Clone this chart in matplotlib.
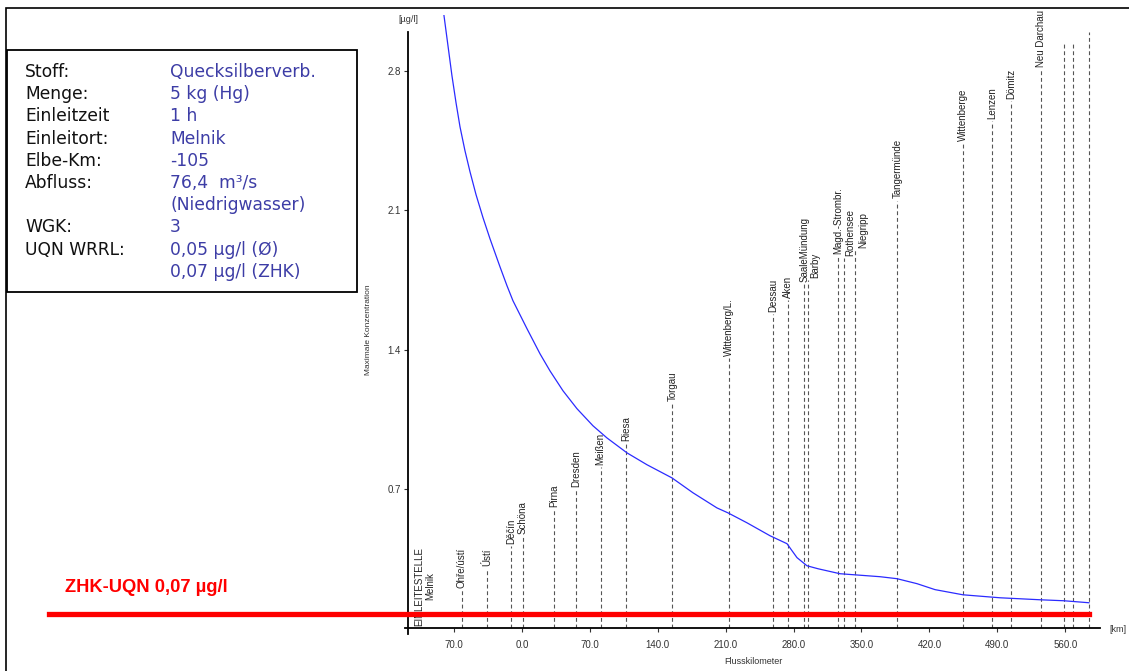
import matplotlib.pyplot as plt
from matplotlib.patches import Rectangle


# Maximalkonzentration entlang der Elbe (Flusskilometer, µg/l)
curve_km = [-80.4, -76.3, -72.2, -68.0, -63.9, -58.8, -53.6, -47.4, -40.2, -33.0,
            -22.7, -15.5, -9.3, 5.2, 18.6, 28.9, 42.3, 56.7, 73.2, 87.6,
            108.2, 128.9, 154.6, 176.3, 201.0, 212.4, 232.0, 255.7, 273.2, 283.5,
            293.8, 305.2, 327.8, 369.1, 386.6, 407.2, 425.8, 454.6, 492.8, 534.0,
            558.8, 584.5]
curve_conc = [3.08, 2.929, 2.778, 2.642, 2.521, 2.401, 2.295, 2.180, 2.064, 1.958,
              1.817, 1.722, 1.646, 1.505, 1.379, 1.293, 1.193, 1.103, 1.017, 0.956,
              0.881, 0.821, 0.755, 0.680, 0.604, 0.579, 0.529, 0.464, 0.424, 0.354,
              0.313, 0.298, 0.273, 0.258, 0.248, 0.223, 0.193, 0.167, 0.152, 0.142,
              0.137, 0.127]

# Pegel / Orte
station_names = ['Ohře/ústí', 'Ústí', 'Děčín', 'Schöna', 'Pirna', 'Dresden', 'Meißen',
                 'Riesa', 'Torgau', 'Wittenberg/L.', 'Dessau', 'Aken', 'SaaleMündung',
                 'Barby', 'Magd.-Strombr.', 'Rothensee', 'Niegripp', 'Tangermünde',
                 'Wittenberge', 'Lenzen', 'Dömitz', 'Neu Darchau', '', '', '']
station_km = [-62, -36, -11, 1, 33, 56, 81, 107, 155, 213, 259, 274, 291, 295,
              326, 332, 343, 387, 455, 485, 504, 535, 559, 568, 585]

source_km = -105
zhk_uqn = 0.07

x_ticks = [-70, 0, 70, 140, 210, 280, 350, 420, 490, 560]
y_ticks = [0.7, 1.4, 2.1, 2.8]

info_keys = ['Stoff:', 'Menge:', 'Einleitzeit', 'Einleitort:', 'Elbe-Km:', 'Abfluss:',
             '', 'WGK:', 'UQN WRRL:', '']
info_values = ['Quecksilberverb.', '5 kg (Hg)', '1 h', 'Melnik', '-105', '76,4  m³/s',
               '(Niedrigwasser)', '3', '0,05 µg/l (Ø)', '0,07 µg/l (ZHK)']

# Höhe der Ortslinien (in µg/l) und seitlicher Versatz der Beschriftung (pt)
line_top = [0.19, 0.30, 0.41, 0.46, 0.60, 0.70, 0.81, 0.93, 1.13, 1.36, 1.58, 1.65, 1.73,
            1.75, 1.87, 1.86, 1.90, 2.15, 2.44, 2.55, 2.65, 2.81, 2.94, 2.94, 3.00]
label_dx = [0, 0, 0, 0, 0, 0, 0, 0, 0, 0, 0, 0, 0, 5, 0, 4.5, 6, 0, 0, 0, 0, 0, 0, 0, 0]


W, H = 1129, 671


def fx(x):
    return x / W


def fy(y):
    return 1 - y / H


plt.rcParams['font.family'] = ['Liberation Sans', 'DejaVu Sans']

fig = plt.figure(figsize=(W / 100, H / 100), dpi=100)
ax = fig.add_axes([fx(408), fy(628), fx(1100) - fx(408), fy(15) - fy(628)])

ax.set_xlim(-117.5, 595.9)
ax.set_ylim(0, 3.083)

# gestrichelte Ortslinien mit Beschriftung
for name, km, top, dx in zip(station_names, station_km, line_top, label_dx):
    ax.plot([km, km], [0, top], color='#555555', lw=0.8, ls=(0, (3.5, 2.5)), zorder=1)
    if name:
        ax.annotate(name, (km, top), xytext=(dx, 1.5), textcoords='offset points',
                    rotation=90, ha='center', va='bottom', fontsize=7, color='#222222')

ax.annotate('EINLEITESTELLE\nMelnik', (source_km, 0.01), xytext=(3.5, 0),
            textcoords='offset points', rotation=90, ha='center', va='bottom',
            fontsize=7, color='#222222', linespacing=1.15)

ax.plot(curve_km, curve_conc, color='#2b2bff', lw=0.9, zorder=3)

# ZHK-UQN Grenzwert
ax.axhline(zhk_uqn, xmin=(49 - 408) / 692, xmax=(1089 - 408) / 692,
           color='#ff0000', lw=3.8, clip_on=False, zorder=4)
fig.text(fx(65), fy(587), 'ZHK-UQN 0,07 µg/l', color='#ff0000', fontsize=13.2,
         fontweight='bold', va='center', ha='left')

# Achsen
for s in ['top', 'right']:
    ax.spines[s].set_visible(False)
ax.spines['left'].set_bounds(-0.03, 3.0)
ax.spines['bottom'].set_bounds(-121, 595.9)
ax.spines['left'].set_linewidth(1.3)
ax.spines['bottom'].set_linewidth(1.3)

ax.set_xticks(x_ticks)
ax.set_xticklabels([f'{abs(v):.1f}' for v in x_ticks])
ax.set_yticks(y_ticks)
ax.set_yticklabels([f'{v:.1f}' for v in y_ticks])
ax.tick_params(axis='both', length=3, width=0.8, labelsize=7, colors='#333333')
ax.tick_params(axis='x', pad=6)
ax.tick_params(axis='y', pad=2)

fig.text(fx(408), fy(20), '[µg/l]', fontsize=6.5, ha='center', va='center', color='#333333')
fig.text(fx(369), fy(330), 'Maximale Konzentration', fontsize=6, rotation=90,
         ha='center', va='center', color='#333333')
fig.text(fx(1109), fy(629), '[km]', fontsize=6.5, ha='left', va='center', color='#333333')
fig.text(fx(753), fy(661), 'Flusskilometer', fontsize=6.5, ha='center', va='center',
         color='#333333')

# Rahmen um die Grafik
fig.patches.append(Rectangle((fx(6), fy(700)), 1.2, fy(8) - fy(700), transform=fig.transFigure,
                             fill=False, edgecolor='black', lw=1.2))

# Infobox
fig.patches.append(Rectangle((fx(7), fy(292)), fx(357) - fx(7), fy(50) - fy(292),
                             transform=fig.transFigure, fill=False, edgecolor='black', lw=1.3))
for i, (k, v) in enumerate(zip(info_keys, info_values)):
    y = 72 + i * 22.2
    fig.text(fx(25), fy(y), k, fontsize=12.3, family='DejaVu Sans', color='#111111',
             va='center', ha='left')
    fig.text(fx(170), fy(y), v, fontsize=12.3, family='DejaVu Sans', color='#3d3da6',
             va='center', ha='left')

fig.savefig('out.png', dpi=100)
